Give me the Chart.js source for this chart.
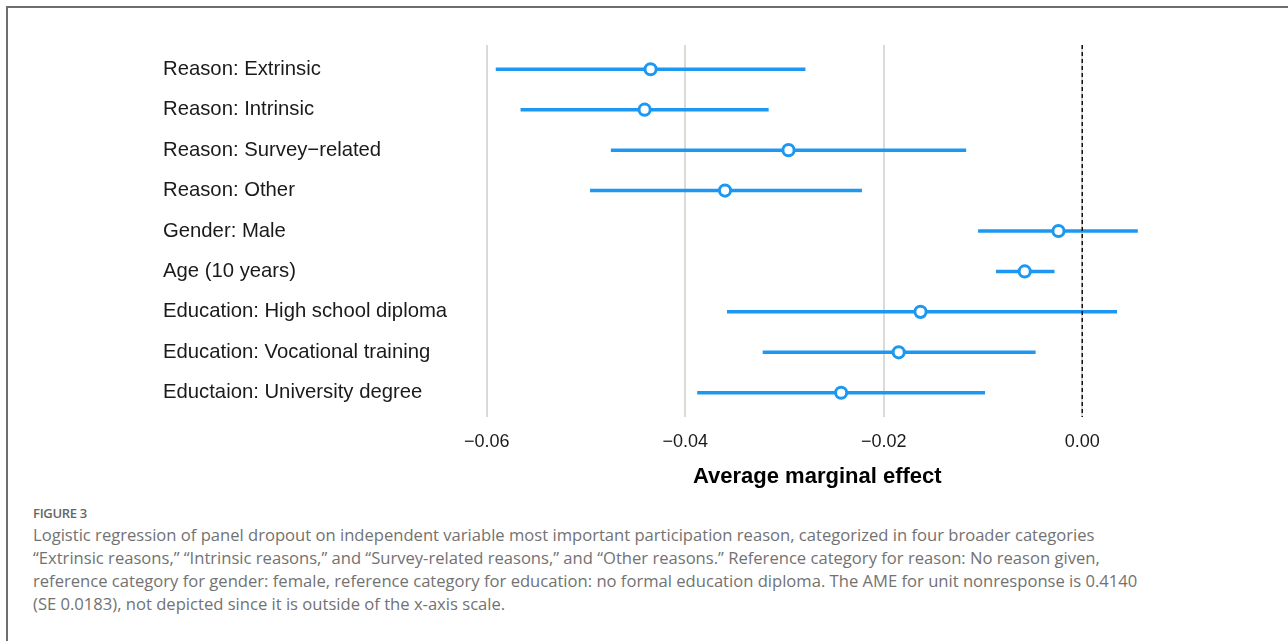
<!DOCTYPE html>
<html>
<head>
<meta charset="utf-8">
<script src="https://cdn.jsdelivr.net/npm/chart.js@4"></script>
<style>
  html, body { margin: 0; padding: 0; background: #fff; }
  body { width: 1288px; height: 641px; position: relative; overflow: hidden; }
  .frame { position: absolute; left: 6px; top: 6px; right: -10px; bottom: -10px;
           border-left: 2px solid #6e6e6e; border-top: 2px solid #6e6e6e; }
  #wrap { position: absolute; left: 0; top: 0; width: 1288px; height: 495px; }
  .caption { position: absolute; left: 33px; top: 503px; font-family: "Open Sans", Lato, sans-serif;
             color: #727272; }
  .caption .fig { font-size: 13px; line-height: 20px; font-weight: 600; letter-spacing: -0.3px; color: #666; }
  .caption .line { font-size: 16.6px; line-height: 23px; white-space: nowrap; }
</style>
</head>
<body>
<div class="frame"></div>
<div id="wrap"><canvas id="ameChart" width="1288" height="495"></canvas></div>
<div class="caption">
  <div class="fig">FIGURE 3</div>
  <div class="line">Logistic regression of panel dropout on independent variable most important participation reason, categorized in four broader categories</div>
  <div class="line">“Extrinsic reasons,” “Intrinsic reasons,” and “Survey-related reasons,” and “Other reasons.” Reference category for reason: No reason given,</div>
  <div class="line">reference category for gender: female, reference category for education: no formal education diploma. The AME for unit nonresponse is 0.4140</div>
  <div class="line">(SE 0.0183), not depicted since it is outside of the x-axis scale.</div>
</div>
<script>
// Row labels, top to bottom
const rowLabels = [
    'Reason: Extrinsic',
    'Reason: Intrinsic',
    'Reason: Survey\u2212related',
    'Reason: Other',
    'Gender: Male',
    'Age (10 years)',
    'Education: High school diploma',
    'Education: Vocational training',
    'Eductaion: University degree'
];

// Average marginal effects and 95% CI bounds
const ame   = [-0.0435, -0.0441, -0.0296, -0.0360, -0.0024, -0.0058, -0.0163, -0.0185, -0.0243];
const lower = [-0.0591, -0.0566, -0.0475, -0.0496, -0.0105, -0.0087, -0.0358, -0.0322, -0.0388];
const upper = [-0.0279, -0.0316, -0.0117, -0.0222,  0.0056, -0.0028,  0.0035, -0.0047, -0.0098];

const xTickValues = [-0.06, -0.04, -0.02, 0.00];
const refValue = 0;

const blue = 'rgb(28, 152, 243)';
const xMin = -0.0623, xMax = 0.0089;
const yMin = 0.4, yMax = rowLabels.length + 0.6;

Chart.defaults.font.family = '"Liberation Sans", Arial, sans-serif';

const intervals = rowLabels.map((lab, i) => ({
    label: lab,
    data: [{x: lower[i], y: i + 1}, {x: upper[i], y: i + 1}],
    showLine: true,
    borderColor: blue,
    borderWidth: 3.5,
    borderCapStyle: 'butt',
    pointRadius: 0
}));

const ctx = document.getElementById('ameChart').getContext('2d');
new Chart(ctx, {
    type: 'scatter',
    data: {
        datasets: [
            {
                label: 'AME',
                data: ame.map((v, i) => ({x: v, y: i + 1})),
                pointRadius: 5.6,
                pointBorderWidth: 3,
                pointBackgroundColor: '#ffffff',
                pointBorderColor: blue
            },
            {
                label: 'zero',
                data: [{x: refValue, y: yMin}, {x: refValue, y: yMax}],
                showLine: true,
                borderColor: '#111111',
                borderWidth: 1.5,
                borderDash: [4, 3],
                pointRadius: 0
            },
            ...intervals
        ]
    },
    options: {
        responsive: false,
        devicePixelRatio: 1,
        animation: false,
        layout: {padding: {left: 163, right: 117.4, top: 45, bottom: 3}},
        plugins: {
            legend: {display: false},
            tooltip: {enabled: false}
        },
        scales: {
            x: {
                type: 'linear',
                min: xMin,
                max: xMax,
                afterBuildTicks: axis => { axis.ticks = xTickValues.map(v => ({value: v})); },
                afterFit: axis => { axis.height = 75; },
                grid: {color: '#dddad6', lineWidth: 2, drawTicks: false},
                border: {display: false},
                ticks: {
                    autoSkip: false,
                    maxRotation: 0,
                    padding: 14,
                    color: '#1a1a1a',
                    font: {size: 18},
                    callback: v => v.toFixed(2).replace('-', '\u2212')
                },
                title: {
                    display: true,
                    text: 'Average marginal effect',
                    color: '#000',
                    font: {size: 22, weight: 'bold'},
                    padding: {top: 9, bottom: 2}
                }
            },
            y: {
                type: 'linear',
                reverse: true,
                min: yMin,
                max: yMax,
                afterBuildTicks: axis => { axis.ticks = rowLabels.map((_, i) => ({value: i + 1})); },
                afterFit: axis => { axis.width = 301; },
                grid: {display: false},
                border: {display: false},
                ticks: {
                    autoSkip: false,
                    crossAlign: 'far',
                    color: '#1a1a1a',
                    font: {size: 20.3},
                    callback: (v, i) => rowLabels[i]
                }
            }
        }
    }
});
</script>
</body>
</html>
